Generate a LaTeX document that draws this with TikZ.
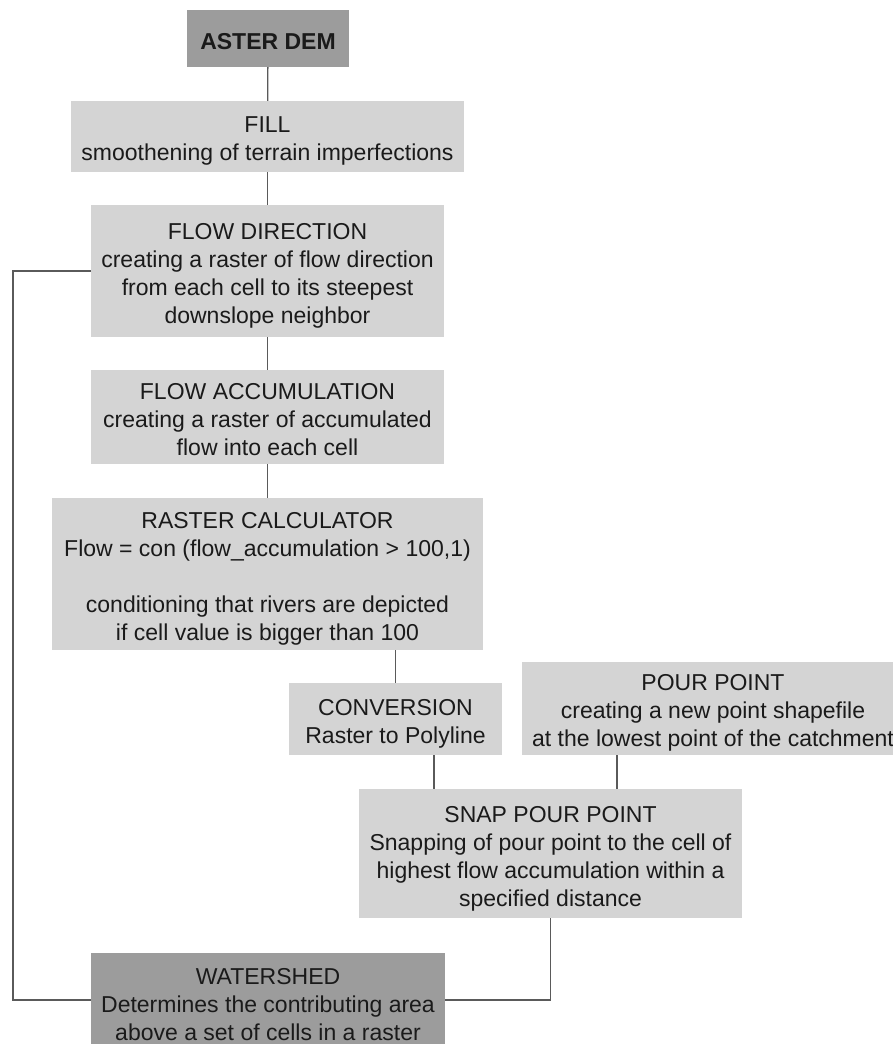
\documentclass[tikz,border=0pt]{standalone}
\usepackage{fontspec}
\setmainfont{Liberation Sans}
\definecolor{lightbox}{HTML}{D4D4D4}
\definecolor{darkbox}{HTML}{9C9C9C}
\definecolor{txt}{HTML}{1A1A1A}
\definecolor{conn}{HTML}{5A5A5A}
\begin{document}
\begin{tikzpicture}[x=1pt,y=-1pt,
  box/.style={fill=lightbox, inner sep=0pt},
  darkb/.style={box, fill=darkbox},
  lbl/.style={text=txt, inner sep=0pt, align=center,
    font=\fontsize{23}{28}\selectfont},
  conn/.style={draw=conn, line width=1.3pt}]
\fill[white] (0,0) rectangle (893,1044);
\useasboundingbox (0,0) rectangle (893,1044);

% boxes
\node[darkb, minimum width=162pt, minimum height=57pt] (aster) at (268,38.5) {};
\node[box, minimum width=393pt, minimum height=71pt] (fill) at (267.5,136.5) {};
\node[box, minimum width=353pt, minimum height=132pt] (fdir) at (267.5,271) {};
\node[box, minimum width=353pt, minimum height=94pt] (facc) at (267.5,417) {};
\node[box, minimum width=431pt, minimum height=152pt] (rcalc) at (267.5,574) {};
\node[box, minimum width=213pt, minimum height=72pt] (conv) at (395.5,719) {};
\node[box, minimum width=382pt, minimum height=93pt] (pour) at (713,708.5) {};
\node[box, minimum width=383pt, minimum height=129pt] (snap) at (550.5,853.5) {};
\node[darkb, minimum width=354pt, minimum height=102pt] (ws) at (268,1004) {};

% texts
\node[lbl, font=\fontsize{23}{28}\selectfont\bfseries] (asterT) at ([yshift=-3pt]aster.center) {ASTER DEM};
\node[lbl] (fillT) at ([yshift=-4.5pt]fill.center) {FILL\\smoothening of terrain imperfections};
\node[lbl] (fdirT) at ([yshift=-5pt]fdir.center) {FLOW DIRECTION\\creating a raster of flow direction\\from each cell to its steepest\\downslope neighbor};
\node[lbl] (faccT) at ([yshift=-3pt]facc.center) {FLOW ACCUMULATION\\creating a raster of accumulated\\flow into each cell};
\node[lbl] (rcalcT) at ([yshift=-4.5pt]rcalc.center) {RASTER CALCULATOR\\Flow = con (flow\_accumulation > 100,1)\\[28pt]conditioning that rivers are depicted\\if cell value is bigger than 100};
\node[lbl] (convT) at ([yshift=-4.5pt]conv.center) {CONVERSION\\Raster to Polyline};
\node[lbl] (pourT) at ([yshift=-4pt]pour.center) {POUR POINT\\creating a new point shapefile\\at the lowest point of the catchment};
\node[lbl] (snapT) at ([yshift=-5pt]snap.center) {SNAP POUR POINT\\Snapping of pour point to the cell of\\highest flow accumulation within a\\specified distance};
\node[lbl] (wsT) at ([yshift=-0.5pt]ws.center) {WATERSHED\\Determines the contributing area\\above a set of cells in a raster};

\coordinate (lft) at (13,271);

% connectors
\draw[conn] (aster) -- (fill);
\draw[conn] (fill) -- (fdir);
\draw[conn] (fdir) -- (facc);
\draw[conn] (facc) -- (rcalc);
\draw[conn] (conv.north |- rcalc.south) -- (conv.north);
\draw[conn] ([xshift=38.5pt]conv.south) -- ([xshift=38.5pt]conv.south |- snap.north);
\draw[conn] ([xshift=-96pt]pour.south) -- ([xshift=-96pt]pour.south |- snap.north);
\draw[conn] (snap.south) |- ([yshift=4pt]ws.east);
\draw[conn] (fdir.west) -- (lft) |- ([yshift=4pt]ws.west);
\end{tikzpicture}
\end{document}
